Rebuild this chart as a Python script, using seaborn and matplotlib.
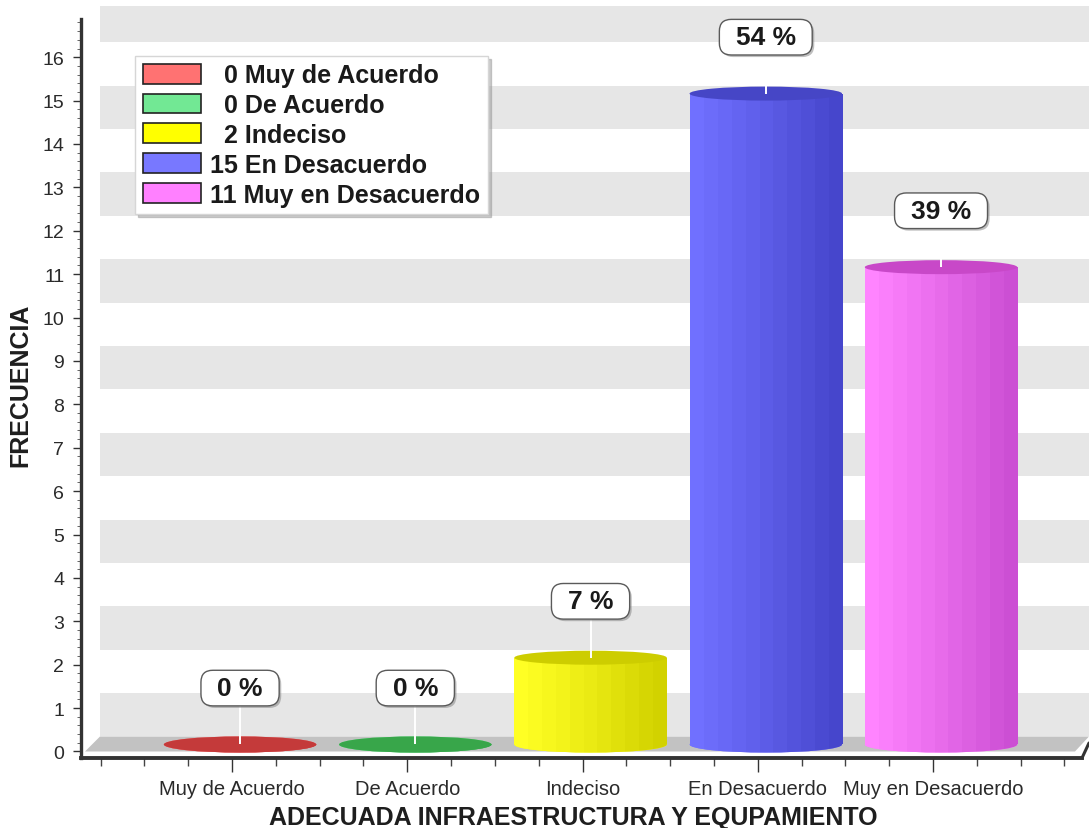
import numpy as np
import pandas as pd
import matplotlib
matplotlib.use("Agg")
import matplotlib.pyplot as plt
import matplotlib.transforms as mtransforms
from matplotlib.patches import Ellipse, Polygon, Patch, Rectangle, BoxStyle
from matplotlib.ticker import MultipleLocator, FixedLocator
from matplotlib import patheffects as pe
from matplotlib.colors import to_rgb
import seaborn as sns

# ---- data -------------------------------------------------------------
categories = ["Muy de Acuerdo", "De Acuerdo", "Indeciso", "En Desacuerdo", "Muy en Desacuerdo"]
frecuencia = [0, 0, 2, 15, 11]
y_ticks = list(range(0, 17))

# ---- colours ----------------------------------------------------------
face_colors = ["#ff7272", "#72e894", "#ffff00", "#7878ff", "#ff80ff"]
shade_light = ["#ff7a7a", "#6ee08c", "#ffff24", "#7070ff", "#ff84ff"]
shade_dark = ["#c84848", "#3aa650", "#d2d200", "#4646cc", "#cc4fd4"]
cap_colors = ["#c43a3a", "#38a64a", "#cdcd00", "#4646c6", "#c848c8"]

sns.set_theme(style="white")
plt.rcParams["font.family"] = ["Liberation Sans", "DejaVu Sans"]

W, H = 1089, 829
fig = plt.figure(figsize=(W / 100, H / 100), dpi=100)
fig.patch.set_facecolor("white")
ax = fig.add_axes([81 / W, 70 / H, 1008 / W, 752 / H])
ax.set_facecolor("white")

df = pd.DataFrame({"categoria": categories, "frecuencia": frecuencia})
sns.barplot(data=df, x="categoria", y="frecuencia", hue="categoria",
            palette=face_colors, saturation=1, width=0.87, legend=False,
            linewidth=0, ax=ax, zorder=3)

x_left, x_right = -0.862, 4.890
y_low, y_high = -0.150, 17.18
ax.set_xlim(x_left, x_right)
ax.set_ylim(y_low, y_high)

# pixel offsets used for the pseudo-3D depth
cyl_shift = mtransforms.ScaledTranslation(8 / 100, 7 / 100, fig.dpi_scale_trans)
wall_shift = mtransforms.ScaledTranslation(0, 15 / 100, fig.dpi_scale_trans)
tr_cyl = ax.transData + cyl_shift
px_per_y = ax.transData.transform((0, 1))[1] - ax.transData.transform((0, 0))[1]
depth_y = 15 / px_per_y
cap_h = 14 / px_per_y

# ---- back wall stripes ------------------------------------------------
wall_tr = mtransforms.blended_transform_factory(ax.transAxes, ax.transData) + wall_shift
for k in range(0, 17, 2):
    ax.add_patch(Rectangle((19 / 1008, k), 1.0, 1.0, transform=wall_tr,
                           facecolor="#e6e6e6", edgecolor="none", zorder=0))

# ---- floor ------------------------------------------------------------
fx0b = x_left + (4 / 1008) * (x_right - x_left)
fx1b = x_left + (994 / 1008) * (x_right - x_left)
fx0t = x_left + (19 / 1008) * (x_right - x_left)
fx1t = x_right
ax.add_patch(Polygon([(fx0b, 0), (fx1b, 0), (fx1t, depth_y), (fx0t, depth_y)],
                     closed=True, facecolor="#c2c2c2", edgecolor="none", zorder=1))

# ---- cylinders --------------------------------------------------------
def facet_strip(c_light, c_dark, n=11):
    a, b = np.array(to_rgb(c_light)), np.array(to_rgb(c_dark))
    t = np.linspace(0, 1, n) ** 1.1
    return np.array([[a + (b - a) * ti for ti in t]])


def pill(bx0, by0, bwid, bhei, m):
    hp, vp = 0.62 * m, 0.22 * m
    return BoxStyle.Round(pad=0, rounding_size=0.45)(
        bx0 - hp, by0 - vp, bwid + 2 * hp, bhei + 2 * vp, m)


bars = list(ax.patches)
total = sum(frecuencia)
for i, (bar, v) in enumerate(zip(bars, frecuencia)):
    bar.set_transform(tr_cyl)
    x0, bw = bar.get_x(), bar.get_width()
    xc = x0 + bw / 2
    strip = facet_strip(shade_light[i], shade_dark[i])

    base = Ellipse((xc, 0), bw, cap_h * 1.15, transform=tr_cyl,
                   facecolor=face_colors[i], edgecolor="none", zorder=3)
    ax.add_patch(base)
    im = ax.imshow(strip, extent=(x0, x0 + bw, -cap_h, max(v, 0.01)),
                   transform=tr_cyl, aspect="auto", interpolation="nearest", zorder=3.1)
    im.set_clip_path(base)
    if v > 0:
        im2 = ax.imshow(strip, extent=(x0, x0 + bw, 0, v), transform=tr_cyl,
                        aspect="auto", interpolation="nearest", zorder=3.1)
        im2.set_clip_path(bar)

    ax.add_patch(Ellipse((xc, v), bw, cap_h * (1.15 if v == 0 else 1.0), transform=tr_cyl,
                         facecolor=cap_colors[i], edgecolor="none", zorder=3.3))

    # connector + percentage tag
    ax.plot([xc, xc], [v, v + 1.3], color="white", lw=1.4, transform=tr_cyl,
            zorder=4, solid_capstyle="butt")
    pct = round(100 * v / total)
    t = ax.text(xc, v + 1.3, f"{pct} %", transform=tr_cyl, ha="center", va="center",
                fontsize=19, fontweight="bold", color="#1a1a1a", zorder=6,
                bbox=dict(boxstyle=pill, facecolor="white", edgecolor="#5a5a5a", lw=1.0))
    t.get_bbox_patch().set_path_effects([
        pe.SimplePatchShadow(offset=(1.5, -1.5), shadow_rgbFace="#808080", alpha=0.5),
        pe.Normal()])

ax.set_xlim(x_left, x_right)
ax.set_ylim(y_low, y_high)

# ---- axes -------------------------------------------------------------
for s in ("top", "right"):
    ax.spines[s].set_visible(False)
ax.spines["left"].set_color("#333333")
ax.spines["left"].set_linewidth(2.4)
ax.spines["left"].set_bounds(y_low, 16.88)
ax.spines["bottom"].set_color("#333333")
ax.spines["bottom"].set_linewidth(2.8)
x_axis_end = x_left + (1001 / 1008) * (x_right - x_left)
ax.spines["bottom"].set_bounds(x_left, x_axis_end)
ax.plot([x_axis_end, x_right], [y_low, y_low + depth_y], color="#333333", lw=2.2,
        clip_on=False, zorder=5)

ax.set_yticks(y_ticks)
ax.set_yticklabels([str(t) for t in y_ticks])
ax.yaxis.set_minor_locator(FixedLocator([k * 0.2 for k in range(0, 85) if k % 5 != 0]))
ax.tick_params(axis="y", which="major", direction="out", length=6, width=1.0,
               color="#333333", labelsize=14, labelcolor="#2a2a2a", pad=6, left=True)
ax.tick_params(axis="y", which="minor", direction="out", length=3, width=0.7,
               color="#666666", left=True)

ax.set_xticks(range(len(categories)))
ax.set_xticklabels(categories)
ax.xaxis.set_minor_locator(FixedLocator([k * 0.25 for k in range(-3, 20) if k % 4 != 0]))
ax.tick_params(axis="x", which="major", direction="out", length=10, width=1.0,
               color="#333333", labelsize=14.5, labelcolor="#2a2a2a", pad=5, bottom=True)
ax.tick_params(axis="x", which="minor", direction="out", length=6, width=1.0,
               color="#444444", bottom=True)

ax.set_xlabel("ADECUADA INFRAESTRUCTURA Y EQUPAMIENTO", fontsize=18,
              fontweight="bold", color="#1e1e1e")
ax.xaxis.set_label_coords(0.488, -0.062)
ax.set_ylabel("FRECUENCIA", fontsize=18, fontweight="bold", color="#1e1e1e")
ax.yaxis.set_label_coords(-0.048, 0.497)
ax.grid(False)

# ---- legend -----------------------------------------------------------
handles = [Patch(facecolor=c, edgecolor="#222222", linewidth=1.2) for c in face_colors]
labels = [("  " if v < 10 else "") + f"{v} {c}" for v, c in zip(frecuencia, categories)]
leg = ax.legend(handles, labels, loc="upper left",
                bbox_to_anchor=((135 - 81) / 1008, (759 - 57) / 752), borderaxespad=0,
                prop={"size": 18, "weight": "bold"}, handlelength=2.32, handleheight=0.84,
                handletextpad=0.4, labelspacing=0.23, borderpad=0.3, frameon=True,
                fancybox=False, edgecolor="#d6d6d6", framealpha=1,
                shadow={"color": "#9a9a9a", "alpha": 0.5})
leg.set_zorder(7)
for txt in leg.get_texts():
    txt.set_color("#1a1a1a")

fig.savefig("out.png", dpi=100, facecolor="white")
